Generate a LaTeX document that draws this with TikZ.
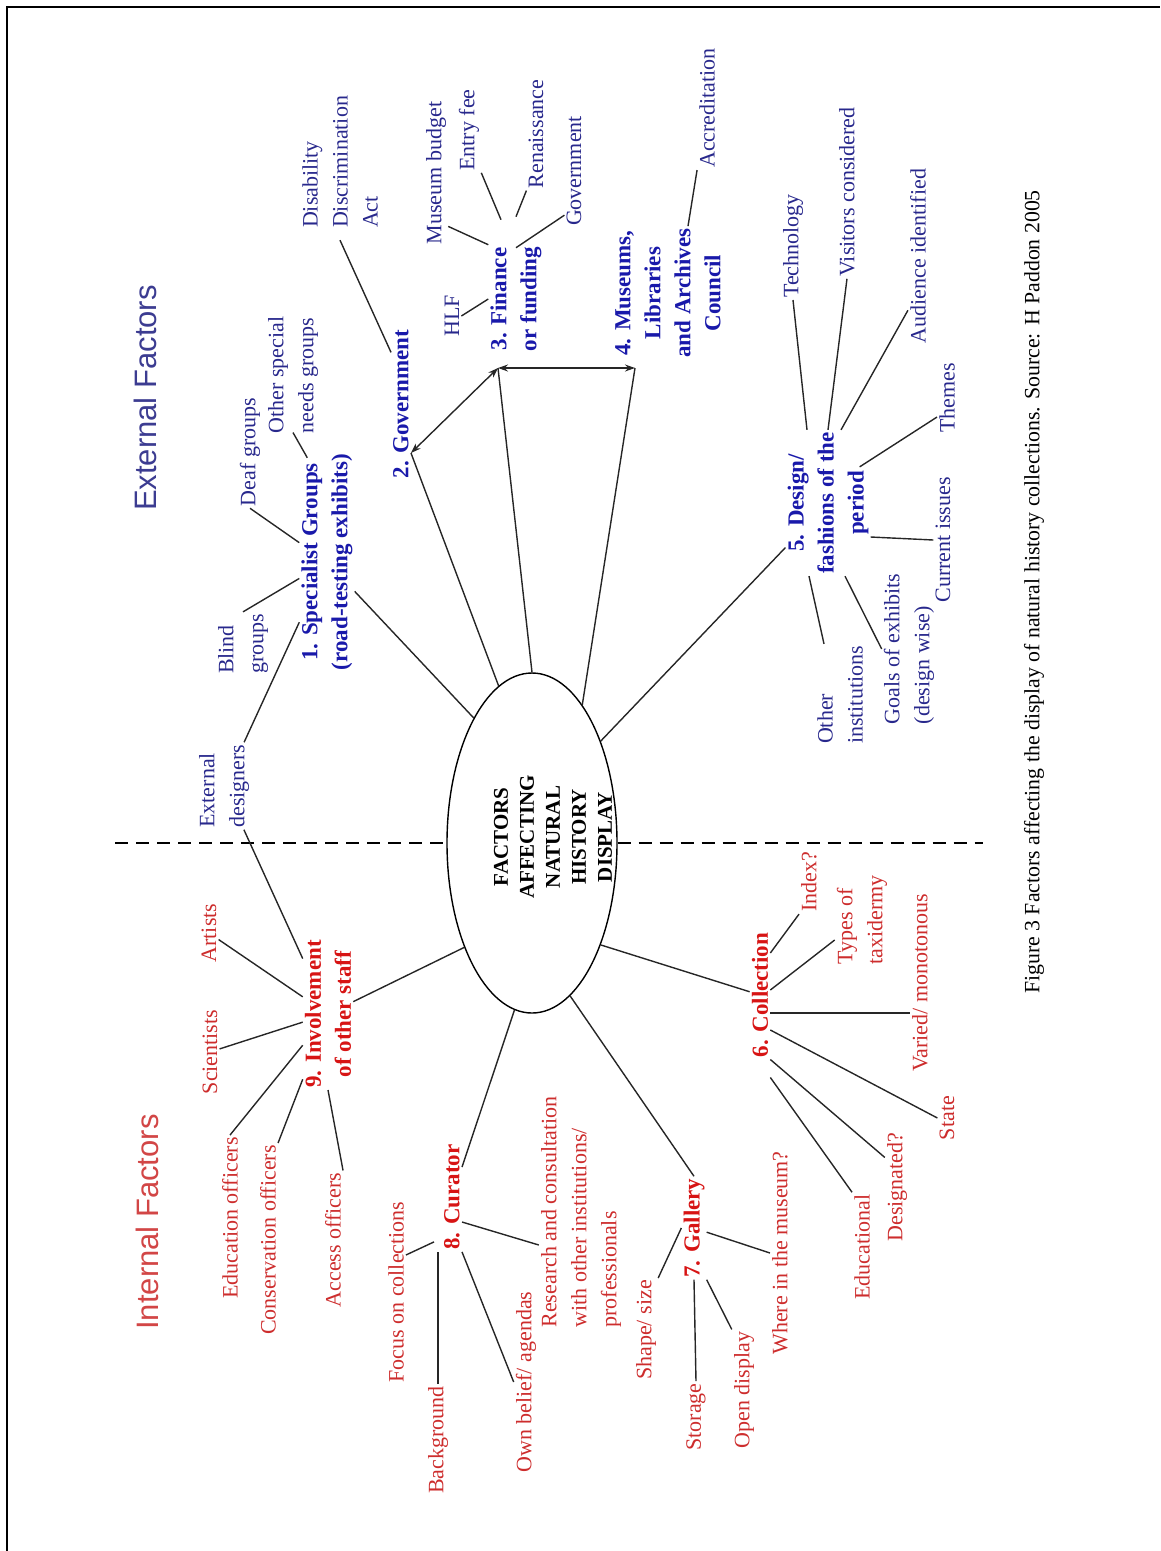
\documentclass[tikz,border=0pt]{standalone}
\usepackage{fontspec}
\setmainfont{Liberation Serif}
\newfontfamily\headfont{Liberation Sans}
\usepackage{tikz}
\usetikzlibrary{arrows.meta, shapes.geometric}

\definecolor{extblue}{RGB}{40,40,140}
\definecolor{extbold}{RGB}{25,25,170}
\definecolor{extside}{RGB}{60,60,145}
\definecolor{intred}{RGB}{205,45,45}
\definecolor{intbold}{RGB}{215,20,20}
\definecolor{intside}{RGB}{210,70,70}

\newcommand{\bodysize}{\fontsize{22}{30}\selectfont}
\newcommand{\boldsize}{\fontsize{23}{30}\selectfont}
\newcommand{\hubsize}{\fontsize{21}{26}\selectfont}
\newcommand{\capsize}{\fontsize{21.8}{25}\selectfont}
\newcommand{\sidesize}{\fontsize{31}{36}\selectfont}

\begin{document}
\begin{tikzpicture}[x=1pt, y=-1pt, >=Stealth,
  lbl/.style={rotate=90, inner sep=2pt, align=center, font=\bodysize},
  ext/.style={lbl, text=extblue},
  extb/.style={lbl, text=extbold, font=\boldsize\bfseries},
  int/.style={lbl, text=intred},
  intb/.style={lbl, text=intbold, font=\boldsize\bfseries},
  side/.style={rotate=90, inner sep=0pt, font=\headfont\sidesize},
  hub/.style={draw, ellipse, line width=1.4pt, minimum width=170pt, minimum height=340pt, inner sep=0pt},
  hubtxt/.style={rotate=90, align=center, font=\hubsize\bfseries},
  link/.style={line width=1.4pt, black!85},
  twoway/.style={link, {Stealth[length=10pt,width=7pt]}-{Stealth[length=10pt,width=7pt]}},
  divider/.style={line width=1.5pt, dash pattern=on 13pt off 8pt}]
  \useasboundingbox (0,0) rectangle (1160,1551);
  % frame, only top and left show
  \draw[line width=2.5pt] (7,1551) -- (7,7) -- (1160,7);

  % side headings
  \node[side, text=extside] (exth) at (145,398) {External Factors};
  \node[side, text=intside] (inth) at (147,1222) {Internal Factors};

  % centre
  \node[hub] (hub) at (532,843) {};
  \node[hubtxt] (hubtxt) at (553,837) {FACTORS\\AFFECTING\\NATURAL\\HISTORY\\DISPLAY};
  \coordinate (divl) at (115,843);
  \coordinate (divr) at (983,843);
  \draw[divider] (divl) -- (hub.west);
  \draw[divider] (hub.east) -- (divr);

  % external factors
  \node[extb] (n1) at (327,562) {1. Specialist Groups\\(road-testing exhibits)};
  \node[extb] (n2) at (401,404) {2. Government};
  \node[extb] (n3) at (516,299) {3. Finance\\or funding};
  \node[extb] (n4) at (668,293) {4. Museums,\\Libraries\\and Archives\\Council};
  \node[extb] (n5) at (828,503) {5. Design/\\fashions of the\\period};

  \node[ext, align=left] (extdes) at (224,786) {External\\designers};
  \node[ext, align=left] (blind) at (243,644) {Blind\\groups};
  \node[ext] (deaf) at (250,452) {Deaf groups};
  \node[ext, align=left] (othersp) at (293,375) {Other special\\needs groups};
  \node[ext, align=left] (disab) at (340,162) {Disability\\Discrimination\\Act};
  \node[ext] (hlf) at (452,316) {HLF};
  \node[ext] (musbud) at (436,173) {Museum budget};
  \node[ext] (entry) at (469,130) {Entry fee};
  \node[ext] (renais) at (536,134) {Renaissance};
  \node[ext] (govfund) at (574,171) {Government};
  \node[ext] (accred) at (707,108) {Accreditation};
  \node[ext] (techno) at (793,246) {Technology};
  \node[ext] (visit) at (847,192) {Visitors considered};
  \node[ext] (audience) at (918,256) {Audience identified};
  \node[ext] (themes) at (947,398) {Themes};
  \node[ext] (curiss) at (943,540) {Current issues};
  \node[ext, align=left] (othinst) at (840,695) {Other\\institutions};
  \node[ext, align=left] (goals) at (909,649) {Goals of exhibits\\(design wise)};

  % internal factors
  \node[intb] (n6) at (760,995) {6. Collection};
  \node[intb] (n7) at (694,1228) {7. Gallery};
  \node[intb] (n8) at (452,1197) {8. Curator};
  \node[intb] (n9) at (328,1014) {9. Involvement\\of other staff};

  \node[int] (index) at (809,882) {Index?};
  \node[int, align=left] (types) at (862,920) {Types of\\taxidermy};
  \node[int] (varied) at (920,983) {Varied/ monotonous};
  \node[int] (state) at (947,1118) {State};
  \node[int] (desig) at (897,1187) {Designated?};
  \node[int] (educ) at (862,1247) {Educational};
  \node[int] (where) at (780,1253) {Where in the museum?};
  \node[int] (shape) at (646,1330) {Shape/ size};
  \node[int] (storage) at (696,1417) {Storage};
  \node[int] (opendisp) at (744,1390) {Open display};
  \node[int, align=left] (research) at (581,1212) {Research and consultation\\with other institutions/\\professionals};
  \node[int] (focus) at (396,1292) {Focus on collections};
  \node[int] (backgr) at (438,1440) {Background};
  \node[int] (ownbel) at (526,1382) {Own belief/ agendas};
  \node[int] (artists) at (209,933) {Artists};
  \node[int] (scient) at (210,1052) {Scientists};
  \node[int] (eduoff) at (230,1218) {Education officers};
  \node[int] (consoff) at (268,1240) {Conservation officers};
  \node[int] (accoff) at (333,1240) {Access officers};

  % caption
  \node[lbl, font=\capsize] (caption) at (1034,592) {Figure 3 Factors affecting the display of natural history collections. Source: H Paddon 2005};

  % spokes from the centre
  \coordinate (j2) at ([yshift=-49pt]n2.south);
  \coordinate (j3) at (498,368);
  \coordinate (j4) at (635,368);
  \draw[link] (hub.115) -- (n1);
  \draw[link] (hub.102) -- (j2);
  \draw[link] (hub.90) -- (j3);
  \draw[link] (hub.70) -- (j4);
  \draw[link] (hub.56) -- (n5);
  \draw[link] (hub.-56) -- (n6);
  \draw[link] (hub.-76) -- (n7.east);
  \draw[link] (hub.-96) -- (n8);
  \draw[link] (hub.-123) -- (n9);
  % government / funding / council
  \draw[twoway] (j2) -- (j3);
  \draw[twoway] (j3) -- (j4);

  % 1 and external designers
  \draw[link] (extdes) -- (n1);
  \draw[link] (extdes) -- (n9);
  \draw[link] (blind.east) -- (n1);
  \draw[link] (deaf.west) -- (n1);
  \draw[link] ([yshift=3pt]othersp.west) -- ([xshift=8pt,yshift=-6pt]n1.north east);
  % 2 and 3
  \draw[link] ([yshift=-10pt]disab.west) -- ([yshift=-25pt]n2.north east);
  \draw[link] (hlf.south) -- (n3.north);
  \draw[link] ([yshift=20pt]musbud.south west) -- (n3.north east);
  \draw[link] (entry.south west) -- ([xshift=-15pt,yshift=25pt]n3.east);
  \draw[link] (renais.north west) -- ([yshift=28pt]n3.east);
  \draw[link] ([yshift=13pt]govfund.north west) -- ([yshift=-3pt]n3.east);
  % 4
  \draw[link] (accred.north west) -- ([xshift=20pt]n4.east);
  % 5
  \draw[link] (techno.west) -- ([xshift=-21pt]n5.east);
  \draw[link] (visit.west) -- (n5.east);
  \draw[link] ([yshift=35pt]audience.north west) -- ([xshift=13pt]n5.east);
  \draw[link] ([yshift=-19pt]themes.north) -- ([xshift=-11pt,yshift=-37pt]n5.south east);
  \draw[link] (curiss.north) -- ([yshift=-34pt]n5.south);
  \draw[link] ([xshift=-16pt]othinst.east) -- ([xshift=-19pt]n5.west);
  \draw[link] (goals.north) -- ([xshift=17pt]n5.west);

  % 6
  \draw[link] (index.north west) -- ([yshift=42pt]n6.south);
  \draw[link] ([yshift=-20pt]types.north) -- ([yshift=5pt]n6.south);
  \draw[link] ([yshift=-18pt]n6.south) -- ([yshift=-18pt]n6.south -| varied.north);
  \draw[link] (state.north) -- ([yshift=-35pt]n6.south);
  \draw[link] ([yshift=-27pt]desig.north east) -- (n6.south west);
  \draw[link] (educ.north east) -- ([yshift=-18pt]n6.south west);
  % 7
  \draw[link] (n7) -- (where.north);
  \draw[link] (shape.south east) -- (n7.north);
  \draw[link] (storage.east) -- (n7.west);
  \draw[link] (n7.south west) -- (opendisp.north east);
  % 8
  \draw[link] ([yshift=37pt]focus.south) -- ([xshift=-8pt,yshift=10pt]n8.north west);
  \draw[link] (backgr.east) -- (backgr.east |- n8.west);
  \draw[link] (n8.south west) -- (ownbel.north);
  \draw[link] ([yshift=-25pt]n8.south) -- ([yshift=-33pt]research.north);
  % 9
  \draw[link] (artists) -- (n9);
  \draw[link] (scient) -- (n9);
  \draw[link] (eduoff.east) -- (n9);
  \draw[link] (consoff.south east) -- (n9);
  \draw[link] (accoff.south east) -- (n9.west);
\end{tikzpicture}
\end{document}
